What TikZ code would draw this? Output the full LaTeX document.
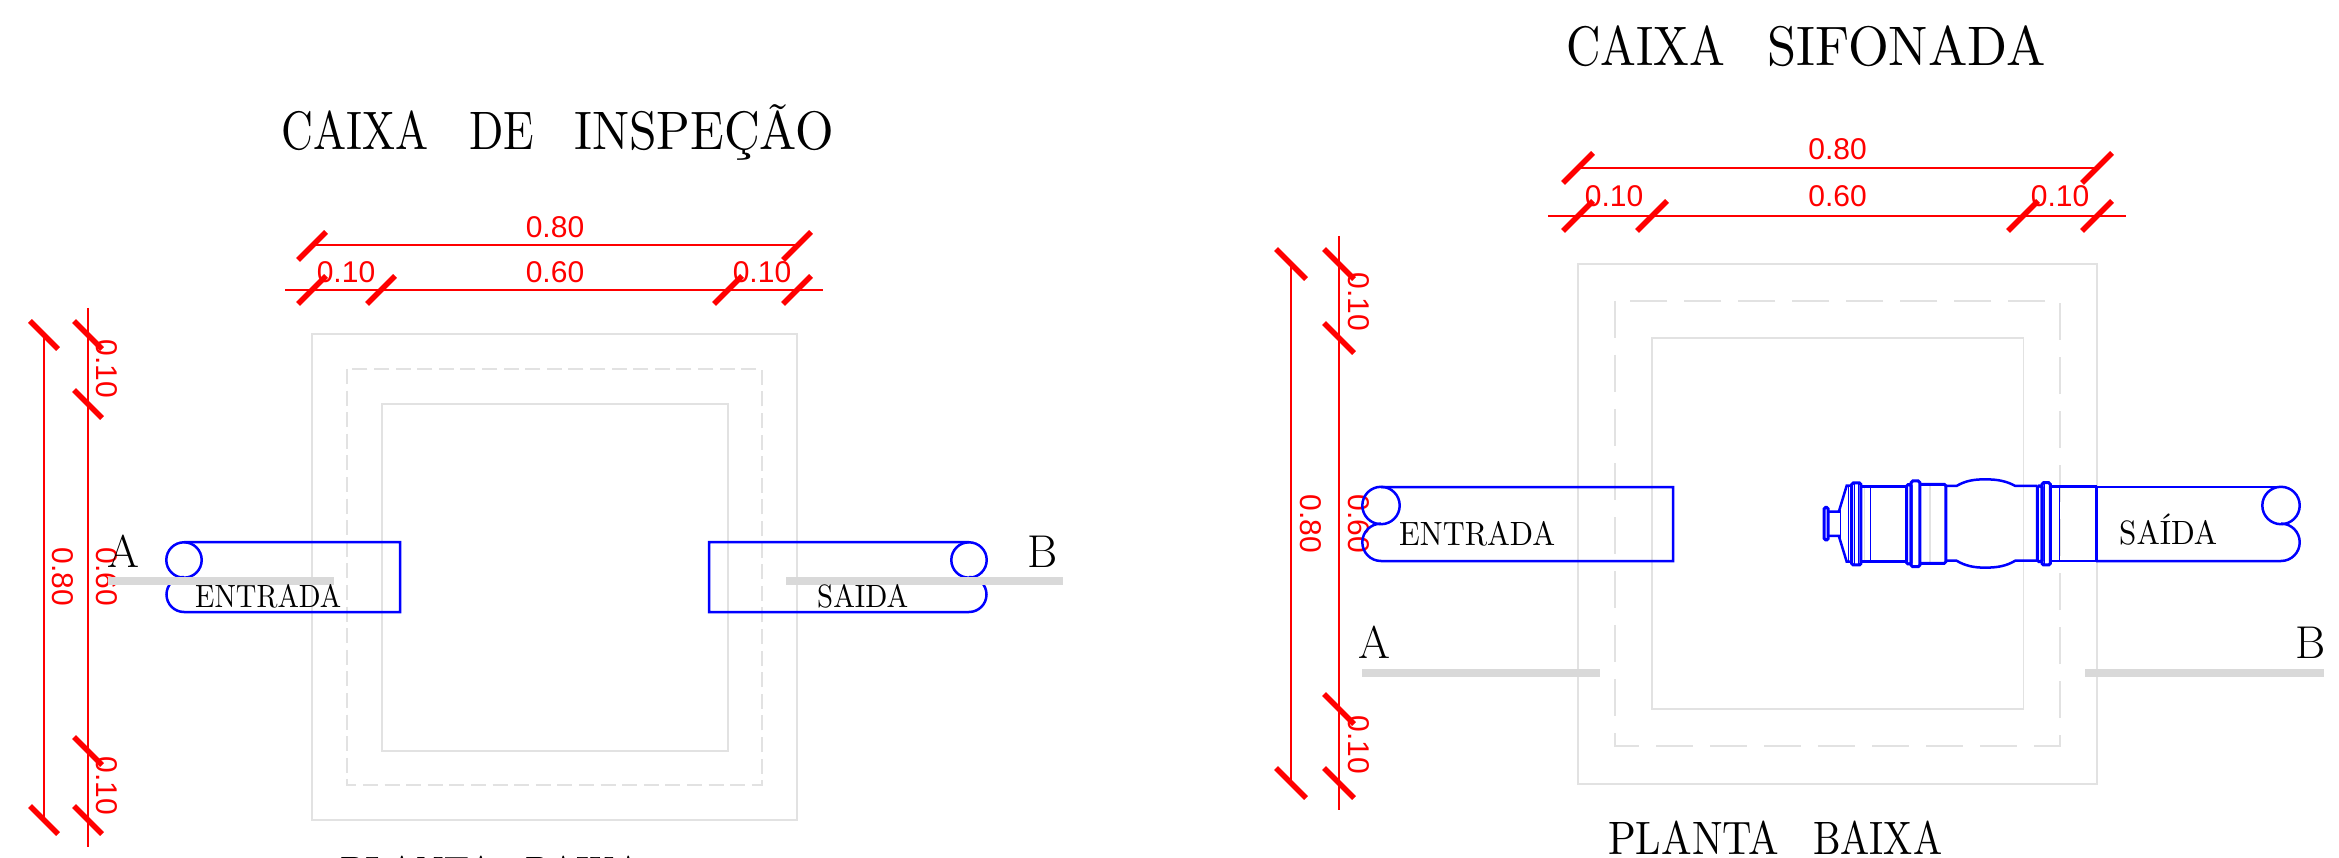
\documentclass[tikz,border=0pt]{standalone}
\usepackage{fontspec}
\usepackage{graphicx}
\newfontfamily\redfont{Liberation Sans}
\newcommand{\fitw}[3]{\resizebox{#1pt}{#2pt}{\raisebox{0pt}[0.683em][0pt]{\addfontfeature{LetterSpace=2,FakeBold=0.3}#3}}}
\newcommand{\fitn}[3]{\resizebox{#1pt}{#2pt}{\raisebox{0pt}[0.683em][0pt]{\addfontfeature{FakeBold=0.4}#3}}}
\tikzset{
  wall/.style={draw=wallgrey,line width=1.8pt},
  walldashl/.style={draw=wallgrey,line width=1.7pt,dash pattern=on 15pt off 6.6pt},
  walldashr/.style={draw=wallgrey,line width=1.7pt,dash pattern=on 37pt off 17pt},
  dimline/.style={draw=red,line width=2pt},
  dimtick/.style={draw=red,line width=5.5pt},
  dimtext/.style={text=red,font=\redfont\fontsize{30}{30}\selectfont,inner sep=0pt},
  pipe/.style={draw=blue,line width=2.5pt},
  pipethin/.style={draw=blue,line width=1.2pt},
  pipethick/.style={draw=blue,line width=3pt,rounded corners=1.5pt},
  cutbar/.style={draw=none,fill=cutgrey},
  blk/.style={inner sep=0pt,anchor=south west,text=black},
  letter/.style={inner sep=0pt,anchor=base,text=black,font=\addfontfeature{FakeBold=0.3}\fontsize{46}{46}\selectfont},
}
\definecolor{wallgrey}{HTML}{E2E2E2}
\definecolor{cutgrey}{HTML}{D9D9D9}
\definecolor{red}{HTML}{FF0000}
\definecolor{blue}{HTML}{0000FF}
\newcommand{\tickat}[3]{\draw[dimtick] (#1-#3,#2+#3) -- (#1+#3,#2-#3);}
\newcommand{\backat}[3]{\draw[dimtick] (#1-#3,#2-#3) -- (#1+#3,#2+#3);}
\begin{document}
\begin{tikzpicture}[x=1pt,y=-1pt]
\useasboundingbox (0,0) rectangle (2339,858);
\fill[white] (0,0) rectangle (2339,858);

% ---- left walls
\draw[wall] (312,334) rectangle (797,820);
\draw[walldashl] (347,369) rectangle (762,785);
\draw[wall] (382,404) rectangle (728,751);
% ---- right walls
\draw[wall] (1578,264) rectangle (2097,784);
\draw[walldashr] (1615,301) rectangle (2060,746);
\draw[wall] (1652,338) rectangle (2023.5,709);

% ---- left dimensions
\draw[dimline] (312,245) -- (797,245);
\draw[dimline] (285,290) -- (823,290);
\tickat{312}{246}{14} \tickat{797}{246}{14}
\tickat{312}{290}{14} \tickat{381}{290}{14} \tickat{728}{290}{14} \tickat{797}{290}{14}
\node[dimtext] (l80) at (555,227) {0.80};
\node[dimtext] (l60) at (555,272) {0.60};
\node[dimtext] (l10a) at (346,272) {0.10};
\node[dimtext] (l10b) at (762,272) {0.10};
\draw[dimline] (44,334) -- (44,820);
\draw[dimline] (88,308) -- (88,847);
\backat{44}{335}{14} \backat{88}{335}{14} \backat{88}{404}{14}
\backat{88}{751}{14} \backat{88}{820}{14} \backat{44}{820}{14}
\node[dimtext,rotate=-90] (lv80) at (63,577) {0.80};
\node[dimtext,rotate=-90] (lv60) at (107,577) {0.60};
\node[dimtext,rotate=-90] (lv10a) at (107,369) {0.10};
\node[dimtext,rotate=-90] (lv10b) at (107,786) {0.10};

% ---- right dimensions
\draw[dimline] (1578,168) -- (2097,168);
\draw[dimline] (1548,216) -- (2126,216);
\tickat{1578}{168}{15} \tickat{2097}{168}{15}
\tickat{1578}{216}{15} \tickat{1652}{216}{15} \tickat{2023}{216}{15} \tickat{2097}{216}{15}
\node[dimtext] (r80) at (1837.5,149) {0.80};
\node[dimtext] (r60) at (1837.5,196) {0.60};
\node[dimtext] (r10a) at (1614,196) {0.10};
\node[dimtext] (r10b) at (2060,196) {0.10};
\draw[dimline] (1291,264) -- (1291,783);
\draw[dimline] (1339,236) -- (1339,810);
\backat{1291}{264}{15} \backat{1339}{264}{15} \backat{1339}{338}{15}
\backat{1339}{709}{15} \backat{1339}{783}{15} \backat{1291}{783}{15}
\node[dimtext,rotate=-90] (rv80) at (1311,524) {0.80};
\node[dimtext,rotate=-90] (rv60) at (1359,524) {0.60};
\node[dimtext,rotate=-90] (rv10a) at (1359,302) {0.10};
\node[dimtext,rotate=-90] (rv10b) at (1359,745) {0.10};

% ---- left pipes
\draw[pipe] (184,542) -- (400,542) -- (400,612) -- (184,612) arc[start angle=270,end angle=90,radius=17.5pt];
\draw[pipe] (184,560) circle[radius=17.7pt];
\draw[pipe] (969,542) -- (709,542) -- (709,612) -- (969,612) arc[start angle=270,end angle=450,radius=17.5pt];
\draw[pipe] (969,560) circle[radius=17.7pt];
% ---- right pipes
\draw[pipe] (1381,487) -- (1673,487) -- (1673,561) -- (1381,561) arc[start angle=270,end angle=90,radius=18.7pt];
\draw[pipe] (1381,505.5) circle[radius=18.7pt];
\draw[pipe] (2096,487) -- (2281,487);
\draw[pipe] (2096,561) -- (2281,561) arc[start angle=270,end angle=450,radius=18.7pt];
\draw[pipe] (2281,505.5) circle[radius=18.7pt];

% ---- siphon fitting (zoom-based coordinates)
\begin{scope}[shift={(1780,450)},x=0.3565pt,y=-0.3333pt]
  \draw[wall,line width=1.5pt] (420,103) -- (420,340);
  \draw[wall,line width=1.5pt] (237,110) -- (237,335);
  \draw[pipethick] (124,172) rectangle (135,270);
  \draw[pipe] (135,185) -- (165,185) -- (187,107) -- (201,107);
  \draw[pipe] (135,258) -- (165,258) -- (187,335) -- (201,335);
  \draw[pipethin] (170,180) -- (170,263);
  \draw[pipethin] (193,107) -- (193,335);
  \draw[pipethick] (201,99) rectangle (227,345);
  \draw[pipethin] (209,99) -- (209,345);
  \draw[pipethin] (219,99) -- (219,345);
  \draw[pipe] (227,110) -- (355,110);
  \draw[pipe] (227,335) -- (355,335);
  \draw[pipethin] (253,110) -- (253,335);
  \draw[pipethick] (355,104) rectangle (368,342);
  \draw[pipethick] (368,93) rectangle (392,350);
  \draw[pipethick] (392,103) -- (465,103) -- (465,340) -- (392,340);
  \draw[pipe] (465,108) -- (495,108) .. controls (520,92) and (545,88) .. (575,88)
     .. controls (610,88) and (635,93) .. (660,108) -- (722,108);
  \draw[pipe] (465,332) -- (495,332) .. controls (520,348) and (545,353) .. (575,353)
     .. controls (610,353) and (635,348) .. (660,332) -- (722,332);
  \draw[pipethick] (722,108) rectangle (735,335);
  \draw[pipethick] (735,98) rectangle (758,345);
  \draw[pipethin] (742,98) -- (742,345);
  \draw[pipe] (758,110) -- (888,110);
  \draw[pipe] (758,333) -- (888,333);
  \draw[pipethin] (785,110) -- (785,333);
  \draw[pipe] (888,108) -- (888,333);
\end{scope}

% ---- section cut bars
\fill[cutbar] (108,577) rectangle (334,585);
\fill[cutbar] (786,577) rectangle (1063,585);
\fill[cutbar] (1362,669) rectangle (1600,677);
\fill[cutbar] (2085,669) rectangle (2324,677);

% ---- black text
\node[blk] (tl) at (281,150) {\fitw{147}{37}{CAIXA}\hspace{41pt}\fitw{65}{37}{DE}\hspace{40pt}\fitw{260}{37}{INSPEÇÃO}};
\node[blk] (tr) at (1566,66) {\fitw{159}{38}{CAIXA}\hspace{42pt}\fitw{278}{38}{SIFONADA}};
\node[blk] (pr) at (1608,855) {\fitn{171}{32}{PLANTA}\hspace{34pt}\fitn{129}{32}{BAIXA}};
\node[blk] (pl) at (340,886.5) {\fitn{155}{29}{PLANTA}\hspace{30pt}\fitn{117}{29}{BAIXA}};
\node[blk] (el) at (195,608) {\fitn{146}{22}{ENTRADA}};
\node[blk] (sl) at (817,608) {\fitn{91}{22}{SAIDA}};
\node[blk] (er) at (1399,546) {\fitn{156}{23}{ENTRADA}};
\node[blk] (sr) at (2119,545) {\fitn{98}{23}{SAÍDA}};
\node[letter] (al) at (123,567) {A};
\node[letter] (bl) at (1043,567) {B};
\node[letter] (ar) at (1374,658) {A};
\node[letter] (br) at (2311,658) {B};
\end{tikzpicture}
\end{document}
